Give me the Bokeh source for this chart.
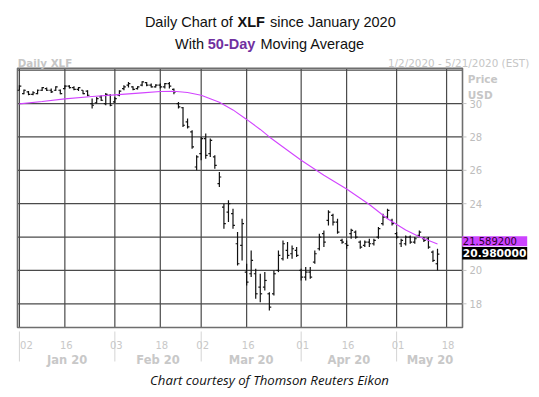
import numpy as np
from bokeh.plotting import figure
from bokeh.models import Range1d
from bokeh.core.properties import value
from bokeh.embed import file_html
from bokeh.resources import INLINE

# ---- data (trading-day index 0 = 2 Jan 2020) ----
idx = list(range(93))
high = [31.10, 30.84, 30.76, 30.74, 30.84, 31.00, 30.96, 30.90, 31.04, 30.84,
        31.10, 31.10, 31.04, 31.00, 30.80, 30.80, 30.30, 30.40, 30.50, 30.64,
        30.56, 30.40, 30.80, 31.10, 31.30, 31.04, 31.04, 31.34, 31.30, 31.20,
        31.16, 31.20, 31.24, 31.30, 30.90, 30.10, 29.80, 29.10, 28.40, 26.90,
        28.00, 28.20, 27.90, 26.90, 25.90, 24.00, 24.20, 23.70, 22.30, 23.10,
        20.40, 21.20, 20.10, 19.80, 19.90, 18.70, 20.00, 21.20, 21.80, 21.70,
        21.50, 21.40, 20.10, 20.20, 20.20, 21.20, 22.20, 22.40, 23.60, 23.40,
        23.10, 21.90, 21.80, 22.50, 22.40, 21.80, 21.80, 21.90, 21.90, 22.60,
        23.40, 23.70, 23.10, 22.30, 21.90, 22.10, 22.10, 22.00, 22.40, 22.00,
        22.00, 21.20, 21.30]
low = [30.80, 30.56, 30.50, 30.50, 30.56, 30.76, 30.76, 30.64, 30.76, 30.56,
       30.86, 30.90, 30.80, 30.76, 30.56, 30.44, 29.70, 30.00, 30.16, 29.90,
       29.84, 30.04, 30.44, 30.80, 30.96, 30.80, 30.84, 31.04, 31.04, 30.96,
       30.96, 30.90, 30.90, 30.90, 30.56, 29.70, 28.60, 28.50, 27.30, 26.00,
       26.60, 26.70, 26.80, 26.10, 25.00, 22.50, 22.90, 22.50, 20.30, 20.60,
       19.10, 19.60, 18.30, 18.10, 18.80, 17.60, 18.50, 19.90, 20.60, 20.70,
       20.70, 20.80, 19.40, 19.40, 19.50, 20.40, 21.20, 21.40, 22.70, 22.70,
       22.20, 21.60, 21.30, 21.90, 21.90, 21.30, 21.40, 21.40, 21.50, 21.90,
       22.70, 23.10, 22.70, 21.90, 21.40, 21.50, 21.60, 21.60, 22.00, 21.70,
       21.30, 20.50, 20.00]
open_ = [30.80, 30.60, 30.70, 30.55, 30.60, 30.80, 30.90, 30.80, 30.80, 30.80,
         30.90, 31.05, 30.95, 30.85, 30.80, 30.75, 30.00, 30.05, 30.40, 30.00,
         30.50, 30.10, 30.50, 30.90, 31.10, 31.00, 30.90, 31.10, 31.25, 31.10,
         31.00, 31.10, 31.00, 31.20, 30.85, 30.00, 29.75, 28.90, 28.30, 26.20,
         27.00, 27.90, 27.00, 26.80, 25.20, 23.80, 23.50, 23.40, 21.60, 21.50,
         19.90, 19.80, 19.80, 19.00, 19.00, 18.60, 18.60, 20.00, 20.70, 21.20,
         21.00, 21.20, 20.00, 19.60, 19.90, 20.50, 21.30, 22.20, 23.00, 23.30,
         22.90, 21.80, 21.60, 22.20, 22.30, 21.70, 21.50, 21.70, 21.60, 22.00,
         22.80, 23.20, 23.00, 22.20, 21.60, 21.60, 22.00, 21.70, 22.10, 21.90,
         21.90, 21.10, 20.40]
close = [31.05, 30.80, 30.55, 30.65, 30.80, 30.95, 30.80, 30.70, 31.00, 30.60,
         31.05, 30.95, 30.85, 30.95, 30.60, 30.50, 29.90, 30.30, 30.20, 30.55,
         29.90, 30.30, 30.75, 31.00, 31.20, 30.85, 31.00, 31.30, 31.10, 31.00,
         31.10, 31.00, 31.20, 31.05, 30.70, 29.80, 28.70, 28.60, 27.40, 26.80,
         27.90, 26.90, 27.80, 26.30, 25.60, 22.80, 24.00, 22.70, 20.40, 22.80,
         19.30, 20.60, 18.60, 18.60, 19.40, 17.80, 19.80, 20.90, 21.60, 20.90,
         21.30, 20.90, 19.60, 19.90, 19.60, 21.00, 22.00, 21.70, 23.50, 22.90,
         22.30, 21.70, 21.50, 22.40, 22.00, 21.40, 21.70, 21.60, 21.80, 22.50,
         23.20, 23.60, 22.80, 22.00, 21.80, 22.00, 21.70, 21.90, 22.30, 21.80,
         21.40, 20.60, 20.98]

ma_idx = [0, 5, 10, 16, 21, 27, 31, 34, 37, 40, 44, 47, 50, 53, 55, 58, 62,
          67, 72, 77, 81, 85, 88, 92]
ma_val = [29.98, 30.12, 30.28, 30.42, 30.52, 30.64, 30.72, 30.74, 30.66, 30.50,
          30.08, 29.62, 29.05, 28.45, 28.00, 27.40, 26.60, 25.70, 24.88, 23.95,
          23.10, 22.42, 22.02, 21.5892]

day_ticks = [0, 10, 21, 31, 40, 50, 62, 72, 83, 94]
day_labels = ["02", "16", "03", "18", "02", "16", "01", "16", "01", "18"]
month_starts = [0, 21, 40, 62, 83]
month_labels = ["Jan 20", "Feb 20", "Mar 20", "Apr 20", "May 20"]
grid_prices = [18, 20, 22, 24, 26, 28, 30, 32]
axis_prices = [18, 20, 24, 26, 28, 30]
axis_labels = [str(v) for v in axis_prices]

# ---- layout: data limits of the chart frame, and where the frame sits ----
XMIN, XMAX = -0.42, 97.5
YMIN, YMAX = 16.58, 32.12
W, H = 539, 397
FL, FR, FT, FB = 17, 462, 67.7, 327
kx = (XMAX - XMIN) / (FR - FL)
ky = (YMAX - YMIN) / (FB - FT)


def dx(px):
    return XMIN + (px - FL) * kx


def dy(py):
    return YMIN + (FB - py) * ky


p = figure(width=W, height=H,
           x_range=Range1d(dx(0), dx(W)), y_range=Range1d(dy(H), dy(0)),
           x_axis_type=None, y_axis_type=None, output_backend="svg",
           toolbar_location=None, min_border=0)
p.min_border_left = p.min_border_right = p.min_border_top = p.min_border_bottom = 0
p.outline_line_color = None
p.background_fill_color = "white"
p.border_fill_color = "white"
p.xgrid.visible = False
p.ygrid.visible = False

GRID = "#4a4a4a"
# grid
p.segment(x0=day_ticks, y0=[YMIN] * len(day_ticks), x1=day_ticks,
          y1=[YMAX] * len(day_ticks), line_color=GRID, line_width=1.2)
p.segment(x0=[XMIN] * len(grid_prices), y0=grid_prices,
          x1=[XMAX] * len(grid_prices), y1=grid_prices,
          line_color=GRID, line_width=1.2)
# frame
p.quad(left=[XMIN], right=[XMAX], bottom=[YMIN], top=[YMAX], fill_color=None,
       line_color="#6e6e6e", line_width=1.6)

# right price axis: ticks and labels
TICKC = "#c4c4c4"
p.segment(x0=[XMAX] * len(axis_prices), y0=axis_prices,
          x1=[XMAX + 4 * kx] * len(axis_prices), y1=axis_prices,
          line_color=TICKC, line_width=1)
p.text(x=[XMAX + 7 * kx] * len(axis_prices), y=axis_prices, text=axis_labels,
       text_font=value("DejaVu Sans"), text_font_size=value("10px"),
       text_color="#bdbdbd", text_baseline="middle", text_align="left")

# month separators
p.segment(x0=month_starts, y0=[dy(331)] * len(month_starts), x1=month_starts,
          y1=[dy(361)] * len(month_starts), line_color="#d4d4d4", line_width=1)

# OHLC bars
x = np.array(idx, dtype=float)
BAR = "#111111"
p.segment(x0=x, y0=low, x1=x, y1=high, line_color=BAR, line_width=1.2)
p.segment(x0=x - 0.42, y0=open_, x1=x, y1=open_, line_color=BAR, line_width=1.2)
p.segment(x0=x, y0=close, x1=x + 0.42, y1=close, line_color=BAR, line_width=1.2)

# moving average
MAG = "#d244ff"
p.line(ma_idx, ma_val, line_color=MAG, line_width=1.1)


# ---- texts ----
def txt(s, px, py, size, color, style="normal", font="DejaVu Sans",
        align="left", baseline="alphabetic"):
    p.text(x=[dx(px)], y=[dy(py)], text=[s], text_font=value(font),
           text_font_size=value(f"{size}px"), text_color=color,
           text_font_style=style, text_align=align, text_baseline=baseline)


TF = "Liberation Sans"
txt("Daily Chart of ", 144.4, 21.4, 14.5, "#111111", font=TF)
txt("XLF", 237, 21.4, 14.5, "#111111", style="bold", font=TF)
txt("since January 2020", 269.5, 21.4, 14.5, "#111111", font=TF)
txt("With ", 174.5, 43, 14.5, "#111111", font=TF)
txt("50-Day", 207.3, 43, 14.5, "#7030a0", style="bold", font=TF)
txt("Moving Average", 259.9, 43, 14.5, "#111111", font=TF)

GRAY = "#c6c6c6"
txt("Daily XLF", 17.3, 62.2, 10.3, GRAY, style="bold")
txt("1/2/2020 - 5/21/2020 (EST)", 528.7, 62.2, 10.4, GRAY, align="right")
txt("Price", 467.3, 78.5, 10.5, GRAY, style="bold")
txt("USD", 467.3, 94, 10.5, GRAY, style="bold")

# day labels
day_x = [t + (7 if i == 0 else 1.5) * kx for i, t in enumerate(day_ticks)]
p.text(x=day_x, y=[dy(344.7)] * len(day_ticks), text=day_labels,
       text_font=value("DejaVu Sans"), text_font_size=value("10px"),
       text_color="#c8c8c8", text_align="center", text_baseline="alphabetic")

# month labels centred between month starts
bounds = month_starts + [XMAX + 0.2]
month_x = [(bounds[i] + bounds[i + 1]) / 2 for i in range(len(month_labels))]
p.text(x=month_x, y=[dy(359.5)] * len(month_labels), text=month_labels,
       text_font=value("DejaVu Sans"), text_font_size=value("11.5px"),
       text_font_style="bold", text_color="#c8c8c8", text_align="center",
       text_baseline="alphabetic")

# caption
txt("Chart courtesy of Thomson Reuters Eikon", 269, 379, 13.2, "#111111",
    style="italic", font="Open Sans", align="center")

# last-value boxes
p.quad(left=[dx(461.7)], right=[dx(526.7)], top=[dy(235.7)], bottom=[dy(245.7)],
       fill_color="#cc44ff", line_color=None)
p.quad(left=[dx(461.7)], right=[dx(526.7)], top=[dy(246.5)], bottom=[dy(259)],
       fill_color="black", line_color=None)
txt(f"{ma_val[-1]:.6f}", 462.3, 240.9, 10, "#2a002a", baseline="middle")
txt(f"{close[-1]:.6f}", 462.3, 252.9, 10.7, "white", style="bold",
    baseline="middle")

open("out.html", "w").write(file_html(p, INLINE))
